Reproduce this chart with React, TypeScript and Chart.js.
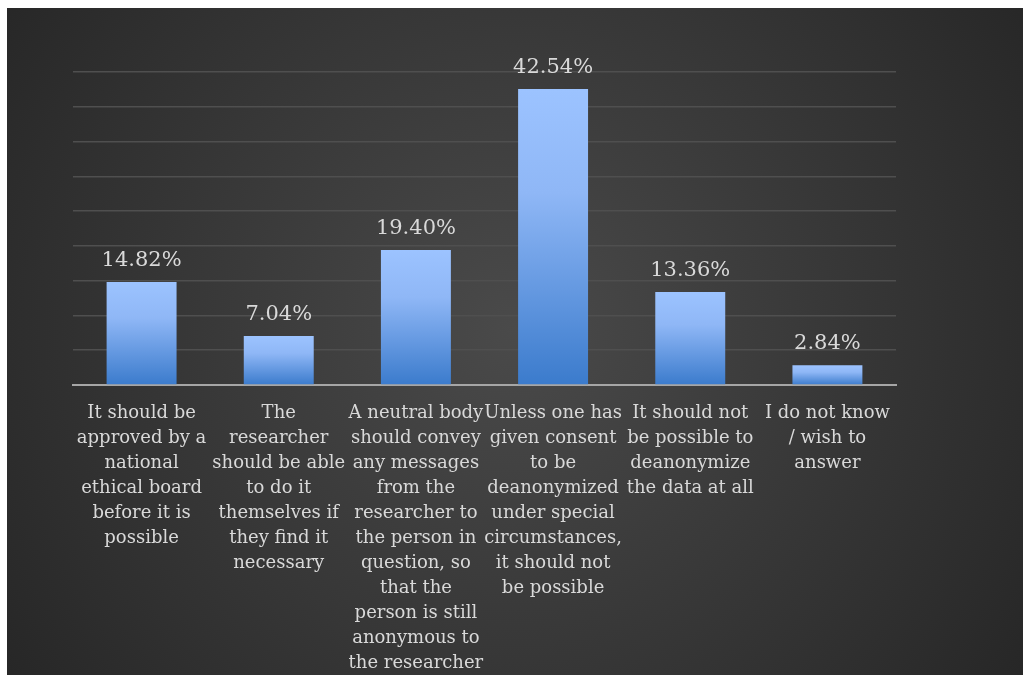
import React, { useEffect, useRef } from "react";
import { Chart, registerables } from "chart.js";

Chart.register(...registerables);

const categories: string[][] = [
  ["It should be", "approved by a", "national", "ethical board", "before it is", "possible"],
  ["The", "researcher", "should be able", "to do it", "themselves if", "they find it", "necessary"],
  ["A neutral body", "should convey", "any messages", "from the", "researcher to", "the person in", "question, so", "that the", "person is still", "anonymous to", "the researcher"],
  ["Unless one has", "given consent", "to be", "deanonymized", "under special", "circumstances,", "it should not", "be possible"],
  ["It should not", "be possible to", "deanonymize", "the data at all"],
  ["I do not know", "/ wish to", "answer"],
];

const values: number[] = [14.82, 7.04, 19.4, 42.54, 13.36, 2.84];

const yMin = 0;
const yMax = 45;
const yStep = 5;

const FONT = '"DejaVu Serif", "Liberation Serif", serif';

export default function App() {
  const ref = useRef<HTMLCanvasElement>(null);

  useEffect(() => {
    if (!ref.current) return;

    const bgPlugin = {
      id: "bgPlugin",
      beforeDraw(chart: any) {
        const { ctx, width, height } = chart;
        const cx = width * 0.5;
        const cy = height * 0.48;
        const g = ctx.createRadialGradient(cx, cy, 0, cx, cy, Math.max(width, height) * 0.62);
        g.addColorStop(0, "#4a4a4a");
        g.addColorStop(1, "#262626");
        ctx.save();
        ctx.fillStyle = g;
        ctx.fillRect(0, 0, width, height);
        ctx.restore();
      },
    };

    const labelPlugin = {
      id: "labelPlugin",
      afterDatasetsDraw(chart: any) {
        const { ctx } = chart;
        const meta = chart.getDatasetMeta(0);
        ctx.save();
        ctx.font = `21px ${FONT}`;
        ctx.fillStyle = "#d9d9d9";
        ctx.textAlign = "center";
        ctx.textBaseline = "alphabetic";
        meta.data.forEach((el: any, i: number) => {
          ctx.fillText(values[i].toFixed(2) + "%", el.x, el.y - 16);
        });
        ctx.restore();
      },
    };

    const chart = new Chart(ref.current, {
      type: "bar",
      data: {
        labels: categories,
        datasets: [
          {
            data: values,
            backgroundColor: (context: any) => {
              const chart = context.chart;
              const ys = chart.scales?.y;
              if (!ys || !chart.chartArea || context.dataIndex === undefined) return "#6a9fe8";
              const v = values[context.dataIndex];
              const top = ys.getPixelForValue(v);
              const bottom = ys.getPixelForValue(0);
              if (!isFinite(top) || !isFinite(bottom) || top === bottom) return "#6a9fe8";
              const g = chart.ctx.createLinearGradient(0, top, 0, bottom);
              g.addColorStop(0, "#9cc3ff");
              g.addColorStop(0.35, "#8fb7f6");
              g.addColorStop(1, "#3b7bcc");
              return g;
            },
            borderWidth: 0,
            barPercentage: 0.51,
            categoryPercentage: 1,
          },
        ],
      },
      options: {
        responsive: false,
        animation: false,
        layout: { padding: { left: 66, right: 127, top: 64, bottom: -17 } },
        plugins: {
          legend: { display: false },
          tooltip: { enabled: false },
        },
        scales: {
          x: {
            grid: { display: false, drawTicks: false },
            border: { display: true, color: "#a6a6a6", width: 2 },
            ticks: {
              autoSkip: false,
              maxRotation: 0,
              minRotation: 0,
              padding: 16,
              color: "#d9d9d9",
              font: { family: FONT, size: 18, lineHeight: 25 / 18 },
            },
          },
          y: {
            min: yMin,
            max: yMax,
            ticks: { display: false, stepSize: yStep },
            grid: { color: "#4f4f4f", lineWidth: 1.5, drawTicks: false },
            border: { display: false },
          },
        },
      },
      plugins: [bgPlugin, labelPlugin],
    });

    return () => chart.destroy();
  }, []);

  return (
    <div style={{ position: "absolute", left: 7, top: 8, width: 1016, height: 667 }}>
      <canvas ref={ref} width={1016} height={667} />
    </div>
  );
}
